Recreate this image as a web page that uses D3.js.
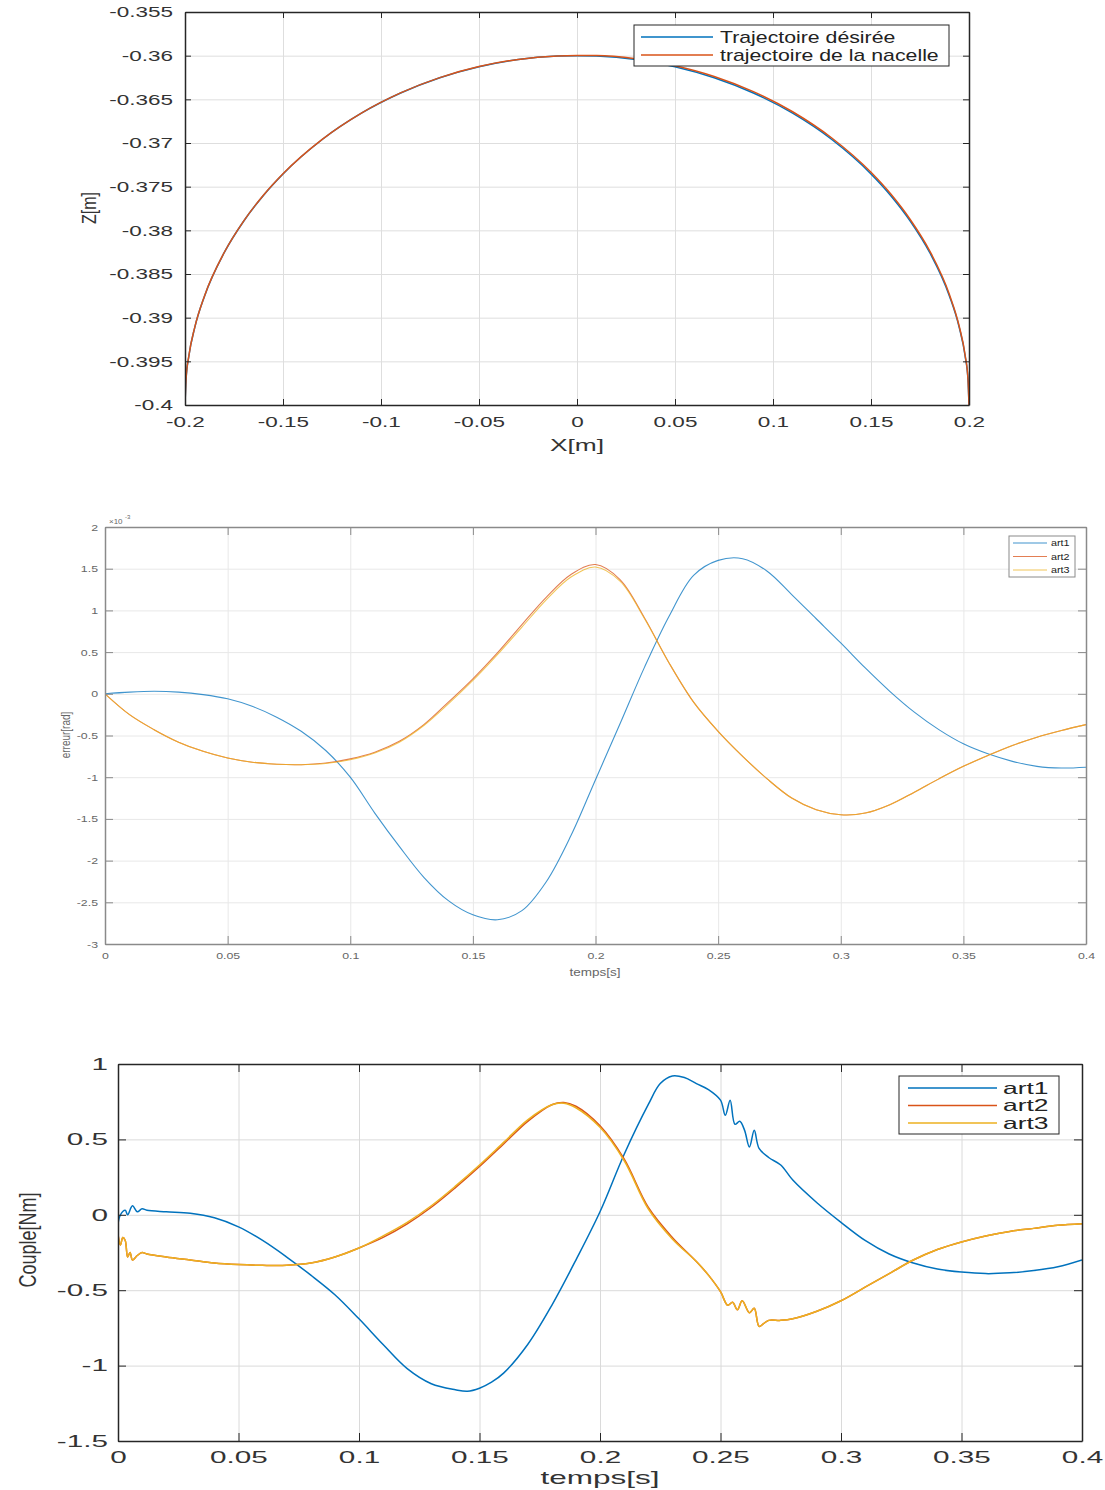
<!DOCTYPE html>
<html>
<head>
<meta charset="utf-8">
<script src="https://cdn.jsdelivr.net/npm/d3@7"></script>
<style>
body { margin: 0; background: #fff; }
svg { display: block; }
text { font-family: "Liberation Sans", Arial, sans-serif; }
</style>
</head>
<body>
<script>
// ---------- data : trajectoire ----------
var traj_x = [-0.2, -0.1995, -0.198, -0.195, -0.19, -0.18, -0.17, -0.16, -0.15, -0.13, -0.11, -0.09, -0.07, -0.05, -0.03, -0.01, 0,
              0.01, 0.03, 0.05, 0.07, 0.09, 0.11, 0.13, 0.15, 0.16, 0.17, 0.18, 0.19, 0.195, 0.198, 0.1995, 0.2];
var traj_z_des = [-0.4, -0.39717, -0.39436, -0.39111, -0.38751, -0.38256, -0.37893, -0.376, -0.37354, -0.3696, -0.36659, -0.36428, -0.36253, -0.36127, -0.36045, -0.36005, -0.36,
                  -0.36005, -0.36045, -0.36127, -0.36253, -0.36428, -0.36659, -0.3696, -0.37354, -0.376, -0.37893, -0.38256, -0.38751, -0.39111, -0.39436, -0.39717, -0.4];
var traj_z_nac = [-0.4, -0.39712, -0.39432, -0.39108, -0.38748, -0.38254, -0.37891, -0.37598, -0.37352, -0.36958, -0.36657, -0.36426, -0.36251, -0.36125, -0.36043, -0.36003, -0.35998,
                  -0.35998, -0.36035, -0.36115, -0.36238, -0.36412, -0.36642, -0.36943, -0.37336, -0.37582, -0.37876, -0.38238, -0.38735, -0.39098, -0.39425, -0.39708, -0.4];

// ---------- data : erreur (x1e-3 rad) ----------
var err_t = [0, 0.01, 0.02, 0.03, 0.04, 0.05, 0.06, 0.07, 0.08, 0.09, 0.1, 0.11, 0.12, 0.13, 0.14, 0.15, 0.16, 0.17, 0.18, 0.19, 0.2,
             0.21, 0.22, 0.23, 0.24, 0.25, 0.26, 0.27, 0.28, 0.29, 0.3, 0.31, 0.32, 0.33, 0.34, 0.35, 0.36, 0.37, 0.38, 0.39, 0.4];
var err_art1 = [0, 0.02, 0.03, 0.02, -0.01, -0.06, -0.15, -0.28, -0.45, -0.68, -1.0, -1.43, -1.83, -2.2, -2.48, -2.65, -2.71, -2.6, -2.25, -1.7, -1.03,
                -0.36, 0.32, 0.93, 1.42, 1.6, 1.62, 1.47, 1.19, 0.9, 0.61, 0.31, 0.03, -0.22, -0.43, -0.6, -0.72, -0.81, -0.87, -0.89, -0.88];
var err_art2 = [0, -0.25, -0.43, -0.58, -0.69, -0.77, -0.82, -0.845, -0.85, -0.83, -0.78, -0.7, -0.57, -0.37, -0.1, 0.18, 0.49, 0.83, 1.16, 1.43, 1.55,
                1.37, 0.91, 0.37, -0.1, -0.45, -0.75, -1.02, -1.25, -1.39, -1.45, -1.43, -1.33, -1.18, -1.02, -0.87, -0.74, -0.62, -0.52, -0.44, -0.37];
var err_art3 = [0, -0.25, -0.43, -0.58, -0.69, -0.77, -0.82, -0.845, -0.85, -0.835, -0.79, -0.71, -0.58, -0.38, -0.12, 0.16, 0.47, 0.8, 1.13, 1.4, 1.52,
                1.35, 0.9, 0.37, -0.1, -0.45, -0.75, -1.02, -1.25, -1.39, -1.45, -1.43, -1.33, -1.18, -1.02, -0.87, -0.74, -0.62, -0.52, -0.44, -0.37];

// ---------- data : couple (Nm) ----------
var cpl_t1 = [0, 0.001, 0.003, 0.004, 0.006, 0.008, 0.01, 0.012, 0.02, 0.03, 0.04, 0.05, 0.06, 0.07, 0.08, 0.09, 0.1, 0.11, 0.12, 0.13, 0.14, 0.145,
              0.15, 0.155, 0.16, 0.17, 0.18, 0.19, 0.2, 0.21, 0.22, 0.225, 0.23, 0.235, 0.24, 0.245, 0.25, 0.252, 0.254, 0.256, 0.258, 0.26, 0.262, 0.264, 0.266,
              0.27, 0.275, 0.28, 0.29, 0.3, 0.31, 0.32, 0.33, 0.34, 0.35, 0.36, 0.37, 0.38, 0.39, 0.4];
var cpl_art1 = [-0.06, 0.0, 0.03, 0.0, 0.06, 0.02, 0.04, 0.03, 0.02, 0.01, -0.02, -0.08, -0.17, -0.28, -0.4, -0.53, -0.69, -0.86, -1.02, -1.12, -1.16, -1.17,
                -1.15, -1.11, -1.05, -0.86, -0.6, -0.3, 0.02, 0.4, 0.73, 0.87, 0.92, 0.91, 0.87, 0.83, 0.76, 0.66, 0.76, 0.6, 0.62, 0.56, 0.45, 0.56, 0.44,
                0.38, 0.33, 0.23, 0.08, -0.05, -0.17, -0.26, -0.32, -0.36, -0.38, -0.39, -0.385, -0.37, -0.345, -0.3];
var cpl_t23 = [0, 0.001, 0.002, 0.003, 0.004, 0.005, 0.006, 0.008, 0.01, 0.012, 0.02, 0.03, 0.04, 0.05, 0.06, 0.07, 0.08, 0.09, 0.1, 0.11, 0.12, 0.13,
               0.14, 0.15, 0.16, 0.17, 0.18, 0.185, 0.19, 0.2, 0.21, 0.22, 0.23, 0.24, 0.245, 0.25, 0.253, 0.255, 0.257, 0.259, 0.262, 0.264, 0.266, 0.268,
               0.27, 0.275, 0.28, 0.29, 0.3, 0.31, 0.32, 0.33, 0.34, 0.35, 0.36, 0.37, 0.38, 0.39, 0.4];
var cpl_art2 = [-0.13, -0.2, -0.15, -0.17, -0.28, -0.25, -0.3, -0.27, -0.25, -0.26, -0.28, -0.3, -0.32, -0.33, -0.335, -0.335, -0.32, -0.28, -0.22, -0.15, -0.06, 0.05,
                0.18, 0.32, 0.47, 0.62, 0.73, 0.745, 0.72, 0.59, 0.37, 0.05, -0.15, -0.31, -0.4, -0.51, -0.6, -0.58, -0.63, -0.57, -0.65, -0.62, -0.74, -0.72,
                -0.7, -0.7, -0.69, -0.64, -0.57, -0.48, -0.39, -0.3, -0.23, -0.18, -0.14, -0.11, -0.09, -0.07, -0.06];
var cpl_art3 = [-0.13, -0.2, -0.15, -0.17, -0.28, -0.25, -0.3, -0.27, -0.25, -0.26, -0.28, -0.3, -0.32, -0.33, -0.335, -0.335, -0.32, -0.28, -0.22, -0.14, -0.05, 0.06,
                0.19, 0.33, 0.48, 0.63, 0.73, 0.74, 0.71, 0.58, 0.36, 0.04, -0.16, -0.31, -0.4, -0.51, -0.6, -0.58, -0.63, -0.57, -0.65, -0.62, -0.74, -0.72,
                -0.7, -0.7, -0.69, -0.64, -0.57, -0.48, -0.39, -0.3, -0.23, -0.18, -0.14, -0.11, -0.09, -0.07, -0.06];

// ---------- ticks ----------
var traj_xticks = [-0.2, -0.15, -0.1, -0.05, 0, 0.05, 0.1, 0.15, 0.2];
var traj_zticks = [-0.4, -0.395, -0.39, -0.385, -0.38, -0.375, -0.37, -0.365, -0.36, -0.355];
var err_tticks = [0, 0.05, 0.1, 0.15, 0.2, 0.25, 0.3, 0.35, 0.4];
var err_yticks = [-3, -2.5, -2, -1.5, -1, -0.5, 0, 0.5, 1, 1.5, 2];
var cpl_tticks = [0, 0.05, 0.1, 0.15, 0.2, 0.25, 0.3, 0.35, 0.4];
var cpl_yticks = [-1.5, -1, -0.5, 0, 0.5, 1];

var BLUE = "#0072BD", ORANGE = "#D95319", YELLOW = "#EDB120";

var svg = d3.select("body").append("svg")
  .attr("width", 1105)
  .attr("height", 1490);

function fmt(d) { return String(+d.toFixed(4)); }

function zip(xs, ys) { return xs.map(function(v, i) { return [v, ys[i]]; }); }

// stretched text helper (the original figures are stretched horizontally)
function stext(parent, x, y, str, size, sx, color, anchor, rot) {
  var tr = "translate(" + x + "," + y + ") scale(" + sx + ",1)" + (rot ? " rotate(" + rot + ")" : "");
  return parent.append("text")
    .attr("transform", tr)
    .attr("text-anchor", anchor || "middle")
    .attr("dy", "0.35em")
    .attr("font-size", size)
    .attr("fill", color)
    .text(str);
}

function drawPanel(p, id) {
  var x = d3.scaleLinear().domain(p.xDomain).range([p.left, p.right]);
  var y = d3.scaleLinear().domain(p.yDomain).range([p.bottom, p.top]);
  var w = p.right - p.left, h = p.bottom - p.top;
  var g = svg.append("g");

  g.append("clipPath").attr("id", "clip" + id)
    .append("rect").attr("x", p.left).attr("y", p.top).attr("width", w).attr("height", h);

  // grid
  g.append("g").attr("transform", "translate(0," + p.bottom + ")")
    .call(d3.axisBottom(x).tickValues(p.xTicks).tickSize(-h).tickFormat(""))
    .call(function(s) { s.select(".domain").remove(); })
    .selectAll("line").attr("stroke", p.gridColor).attr("stroke-width", 1);
  g.append("g").attr("transform", "translate(" + p.left + ",0)")
    .call(d3.axisLeft(y).tickValues(p.yTicks).tickSize(-w).tickFormat(""))
    .call(function(s) { s.select(".domain").remove(); })
    .selectAll("line").attr("stroke", p.gridColor).attr("stroke-width", 1);

  // series
  var line = d3.line()
    .x(function(d) { return x(d[0]); })
    .y(function(d) { return y(d[1]); })
    .curve(p.curve || d3.curveCatmullRom.alpha(0.5));
  var lines = g.append("g").attr("clip-path", "url(#clip" + id + ")");
  p.series.forEach(function(s) {
    lines.append("path")
      .datum(s.values)
      .attr("fill", "none")
      .attr("stroke", s.color)
      .attr("stroke-width", p.lineWidth)
      .attr("stroke-opacity", p.lineOpacity || 1)
      .attr("stroke-linejoin", "round")
      .attr("d", line);
  });

  // axes (MATLAB-like box, ticks inside)
  var tl = p.tickLen;
  var ax = g.append("g").attr("transform", "translate(0," + p.bottom + ")")
    .call(d3.axisBottom(x).tickValues(p.xTicks).tickSizeInner(-tl).tickSizeOuter(0).tickPadding(p.xPad).tickFormat(fmt));
  var ay = g.append("g").attr("transform", "translate(" + p.left + ",0)")
    .call(d3.axisLeft(y).tickValues(p.yTicks).tickSizeInner(-tl).tickSizeOuter(0).tickPadding(p.yPad).tickFormat(p.yFmt || fmt));
  var at = g.append("g").attr("transform", "translate(0," + p.top + ")")
    .call(d3.axisTop(x).tickValues(p.xTicks).tickSizeInner(-tl).tickSizeOuter(0).tickFormat(""));
  var ar = g.append("g").attr("transform", "translate(" + p.right + ",0)")
    .call(d3.axisRight(y).tickValues(p.yTicks).tickSizeInner(-tl).tickSizeOuter(0).tickFormat(""));
  [ax, ay, at, ar].forEach(function(a) {
    a.select(".domain").attr("stroke", p.axisColor).attr("stroke-width", p.axisWidth);
    a.selectAll(".tick line").attr("stroke", p.axisColor).attr("stroke-width", 1);
  });
  ax.selectAll(".tick text")
    .attr("font-size", p.tickFont).attr("fill", p.textColor)
    .attr("font-family", "Liberation Sans, Arial, sans-serif")
    .attr("transform", "scale(" + p.sx + ",1)");
  ay.selectAll(".tick text")
    .attr("font-size", p.tickFont).attr("fill", p.textColor)
    .attr("font-family", "Liberation Sans, Arial, sans-serif")
    .attr("x", -p.yPad / p.sx)
    .attr("transform", "scale(" + p.sx + ",1)");

  // labels
  stext(g, p.xLabel.x, p.xLabel.y, p.xLabel.text, p.xLabel.size, p.xLabel.sx, p.textColor);
  stext(g, p.yLabel.x, p.yLabel.y, p.yLabel.text, p.yLabel.size, p.yLabel.sx, p.textColor, "middle", -90);

  // legend
  var L = p.legend;
  var lg = g.append("g");
  lg.append("rect")
    .attr("x", L.x).attr("y", L.y).attr("width", L.w).attr("height", L.h)
    .attr("fill", "#fff").attr("stroke", p.axisColor).attr("stroke-width", 1);
  p.series.forEach(function(s, i) {
    var yy = L.y + L.first + i * L.step;
    lg.append("line")
      .attr("x1", L.x + L.l1).attr("x2", L.x + L.l2).attr("y1", yy).attr("y2", yy)
      .attr("stroke", s.color).attr("stroke-width", p.lineWidth).attr("stroke-opacity", p.lineOpacity || 1);
    stext(lg, L.x + L.tx, yy, s.name, L.size, L.sx, "#222", "start");
  });
  return g;
}

// ---------- panel 1 : trajectoire ----------
drawPanel({
  left: 185, right: 969, top: 12, bottom: 405,
  xDomain: [-0.2, 0.2], yDomain: [-0.4, -0.355],
  xTicks: traj_xticks, yTicks: traj_zticks,
  gridColor: "#dedede", axisColor: "#262626", axisWidth: 1.5, textColor: "#333",
  tickLen: 6, tickFont: 15, sx: 1.5, xPad: 11, yPad: 12,
  lineWidth: 1.5, curve: d3.curveMonotoneX,
  series: [
    { name: "Trajectoire désirée", color: BLUE, values: zip(traj_x, traj_z_des) },
    { name: "trajectoire de la nacelle", color: ORANGE, values: zip(traj_x, traj_z_nac) }
  ],
  xLabel: { text: "X[m]", x: 577, y: 445, size: 17, sx: 1.55 },
  yLabel: { text: "Z[m]", x: 89, y: 208, size: 16, sx: 1.3 },
  legend: { x: 634, y: 25, w: 315, h: 41, first: 12, step: 18, l1: 7, l2: 79, tx: 86, size: 16, sx: 1.33 }
}, 1);

// ---------- panel 2 : erreur ----------
var p2 = drawPanel({
  left: 105, right: 1086, top: 527, bottom: 944,
  xDomain: [0, 0.4], yDomain: [-3, 2],
  xTicks: err_tticks, yTicks: err_yticks,
  gridColor: "#e8e8e8", axisColor: "#8a8a8a", axisWidth: 1.5, textColor: "#666",
  tickLen: 8, tickFont: 9.5, sx: 1.3, xPad: 8, yPad: 7,
  lineWidth: 1.1, lineOpacity: 0.75,
  series: [
    { name: "art1", color: BLUE, values: zip(err_t, err_art1) },
    { name: "art2", color: ORANGE, values: zip(err_t, err_art2) },
    { name: "art3", color: YELLOW, values: zip(err_t, err_art3) }
  ],
  xLabel: { text: "temps[s]", x: 595, y: 972, size: 10, sx: 1.35 },
  yLabel: { text: "erreur[rad]", x: 66, y: 735, size: 10, sx: 1.2 },
  legend: { x: 1009, y: 536, w: 66, h: 41, first: 7, step: 13.5, l1: 4, l2: 38, tx: 42, size: 9, sx: 1.2 }
}, 2);
p2.append("text").attr("x", 109).attr("y", 524).attr("font-size", 8).attr("fill", "#666").text("×10");
p2.append("text").attr("x", 125).attr("y", 519).attr("font-size", 6).attr("fill", "#666").text("-3");

// ---------- panel 3 : couple ----------
drawPanel({
  left: 118, right: 1082, top: 1064, bottom: 1441,
  xDomain: [0, 0.4], yDomain: [-1.5, 1],
  xTicks: cpl_tticks, yTicks: cpl_yticks,
  gridColor: "#dadada", axisColor: "#262626", axisWidth: 1.5, textColor: "#333",
  tickLen: 8, tickFont: 16.5, sx: 1.8, xPad: 10, yPad: 10,
  lineWidth: 1.5,
  series: [
    { name: "art1", color: BLUE, values: zip(cpl_t1, cpl_art1) },
    { name: "art2", color: ORANGE, values: zip(cpl_t23, cpl_art2) },
    { name: "art3", color: YELLOW, values: zip(cpl_t23, cpl_art3) }
  ],
  xLabel: { text: "temps[s]", x: 600, y: 1478, size: 18, sx: 1.75 },
  yLabel: { text: "Couple[Nm]", x: 27, y: 1240, size: 18, sx: 1.35 },
  legend: { x: 899, y: 1076, w: 160, h: 58, first: 12, step: 17.5, l1: 9, l2: 98, tx: 104, size: 16.5, sx: 1.6 }
}, 3);
</script>
</body>
</html>
